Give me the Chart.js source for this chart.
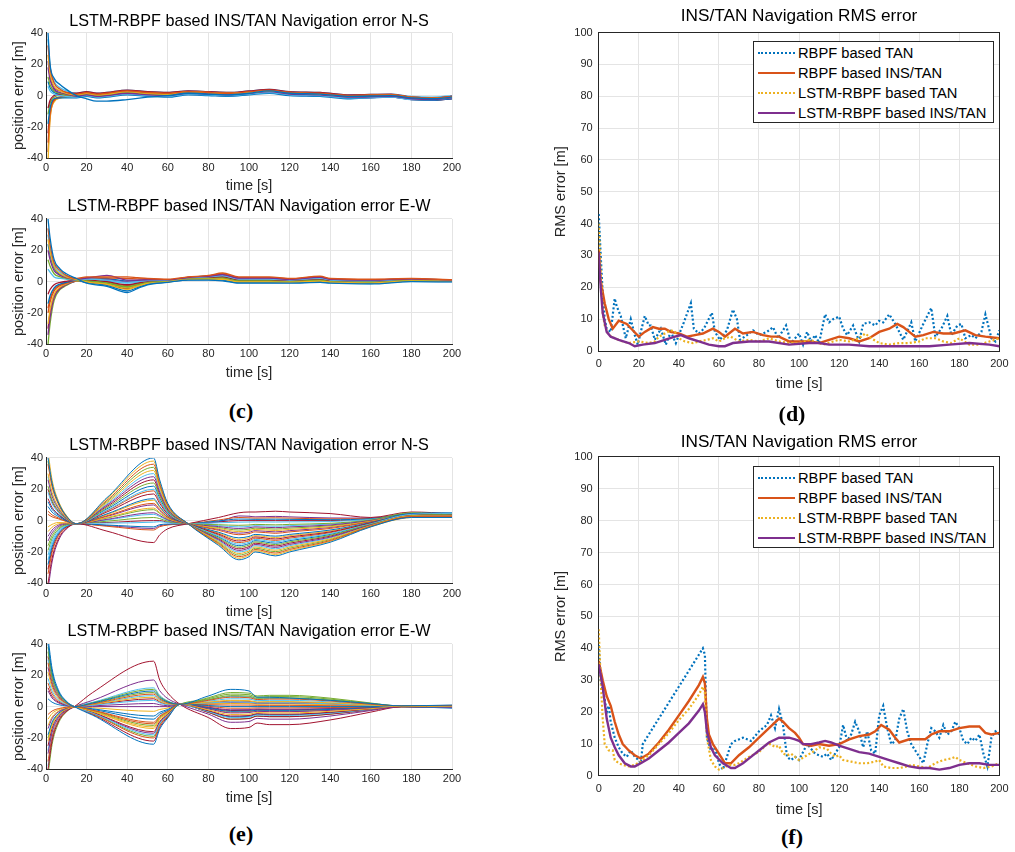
<!DOCTYPE html>
<html>
<head>
<meta charset="utf-8">
<script src="https://cdn.jsdelivr.net/npm/chart.js@4.4.1/dist/chart.umd.min.js"></script>
<style>
    body { margin: 0; background: #fff; width: 1015px; height: 852px; position: relative; overflow: hidden; font-family: "Liberation Sans", Arial, sans-serif; }
    canvas { position: absolute; }
    .fig { position: absolute; font-family: "Liberation Serif", serif; font-weight: bold; font-size: 22px; color: #000; transform: translate(-50%, -50%); }
    .legend { position: absolute; box-sizing: border-box; border: 1px solid #262626; background: #fff; font-size: 14.7px; color: #000; }
    .legend .row { position: absolute; left: 0; height: 20px; line-height: 20px; white-space: nowrap; }
    .legend .sample { position: absolute; left: 4px; top: 9px; width: 37px; height: 0; }
    .legend .txt { position: absolute; left: 44px; top: 0; }
</style>
</head>
<body>
<canvas id="cNS" width="466" height="195" style="left:0;top:0"></canvas>
<canvas id="cEW" width="466" height="195" style="left:0;top:190px"></canvas>
<canvas id="eNS" width="466" height="195" style="left:0;top:428px"></canvas>
<canvas id="eEW" width="466" height="195" style="left:0;top:615px"></canvas>
<canvas id="dRMS" width="475" height="395" style="left:540px;top:0"></canvas>
<canvas id="fRMS" width="475" height="395" style="left:540px;top:425px"></canvas>
<div id="legD" class="legend" style="left:753px;top:41px;width:241px;height:82px"></div>
<div id="legF" class="legend" style="left:753px;top:466px;width:241px;height:82px"></div>
<div class="fig" style="left:241px;top:411px">(c)</div>
<div class="fig" style="left:792px;top:414px">(d)</div>
<div class="fig" style="left:241px;top:834px">(e)</div>
<div class="fig" style="left:792px;top:837px">(f)</div>

<script>
"use strict";

// ---- (c) N-S: tidsknutar och kurvor ----
const cNsTime = [1, 2, 4, 7, 10, 15, 20, 25, 30, 40, 50, 60, 70, 80, 90, 100, 110, 120, 135, 150, 170, 180, 190, 200];
const cNsLines = [
    [40, 20, 11, 7, 4, 0, -2, -3.5, -3.5, -2.5, -1, 0, 1.5, 1, 0.5, 1.5, 3, 1.5, 1, -0.5, 0, -1.5, -2, -1],
    [32, 18, 8, 4, 2, 1, 2, 1, 1.5, 3, 2, 1.5, 2.5, 2, 1.5, 2.5, 3.5, 2, 1.5, 0, 0.5, -1, -1.5, -0.5],
    [26, 14, 6, 3, 1.5, 0.5, 1.5, 0.5, 1, 2.5, 1.5, 1, 2.5, 2, 1.5, 2, 3, 2, 1, 0, 0.5, -1, -1.5, -1],
    [18, 10, 4, 2, 1, -0.5, 0.5, -0.5, 0, 1.5, 0.5, 0, 1.5, 1, 0.5, 1.5, 2.5, 1, 0.5, -1, -0.5, -2, -2.5, -1.5],
    [12, 7, 3, 1.5, 0.5, 0, 1, 0, 0.5, 2, 1, 0.5, 2, 1.5, 1, 2, 3, 1.5, 1, -0.5, 0, -1.5, -2, -1],
    [6, 3, 1, 0, -0.5, -1, 0, -1, -0.5, 1, 0, -0.5, 1, 0.5, 0, 1, 2, 0.5, 0, -1.5, -1, -2.5, -2.5, -1.5],
    [-8, -3, 0, 1, 1.5, 1.5, 2.5, 1.5, 2, 3.5, 2.5, 2, 3, 2.5, 2, 3, 4, 2.5, 2, 0.5, 1, -1, -1.5, -0.5],
    [-18, -8, -2, -1.5, -1.5, -1.5, -0.5, -1.5, -1, 0.5, -0.5, -1, 0.5, 0, -0.5, 0.5, 1.5, 0, -0.5, -2, -1, -2.5, -3, -2],
    [-30, -12, -3, -1, 0, 0.5, 1.5, 0.5, 1, 2.5, 1.5, 1, 2.5, 2, 1.5, 2.5, 3, 1.5, 1, -0.5, 0, -1.5, -2, -1],
    [-42, -15, -4, -1.5, -1, -0.5, 0.5, -0.5, 0, 1.5, 0.5, 0, 1.5, 1, 0.5, 1.5, 2.5, 1, 0.5, -1, -0.5, -2, -2.5, -1.5],
    [22, 12, 5, 3, 2, 1, 2, 1, 1.5, 3, 2, 1, 2.5, 2, 1.5, 2.5, 3.5, 2, 1.5, 0, 0.5, -1, -1.5, -0.5],
    [-12, -5, -1, 0, 0, 0, 1, 0, 0.5, 2, 1, 0.5, 2, 1.5, 1, 2, 3, 1.5, 1, -0.5, 0, -1.5, -2, -1],
    [36, 19, 9, 5, 3, 1.5, 2.5, 1.5, 2, 3.5, 2.5, 2, 3, 2.5, 2, 3, 4, 2.5, 2, 0.5, 1, -0.5, -1, 0],
    [-24, -10, -2.5, -1, -0.5, -1, 0, -1, -0.5, 1, 0, -0.5, 1, 0.5, 0, 1, 2, 0.5, 0, -1.5, -1, -2.5, -3, -2],
    [9, 5, 2, 1, 0.5, 0.5, 1.5, 0.5, 1, 2.5, 1.5, 1, 2.5, 2, 1.5, 2.5, 3, 2, 1.5, 0, 0.5, -1, -1.5, -0.5],
    [-36, -14, -3.5, -1.5, -0.5, 0, 1, 0, 0.5, 2, 1, 0.5, 2, 1.5, 1, 2, 2.5, 1, 0.5, -1, 0, -1.5, -2, -1]
];

// ---- (c) E-W ----
const cEwTime = [1, 2, 4, 7, 10, 15, 20, 30, 40, 45, 50, 60, 70, 80, 87, 95, 110, 120, 135, 140, 160, 180, 200];
const cEwLines = [
    [40, 28, 14, 8, 5, 2, -1, -3, -7, -4.5, -2, -0.5, 1, 1, 0.5, -1, -1, -1, -0.5, -1, -1.5, 0, -0.2],
    [34, 24, 12, 7, 4, 2, 3, 3, 3, 2.5, 2, 1.5, 3, 4, 5.5, 3, 3, 2, 3.5, 2, 1.5, 2, 1.2],
    [27, 19, 9.5, 5, 3, 1.5, -0.2, -1.8, -5, -3, -1.2, -0.1, 1.4, 1.6, 1.5, -0.2, -0.2, -0.4, 0.3, -0.4, -0.9, 0.4, 0.1],
    [20, 14, 7, 4, 2.5, 1.5, 2.2, 4, 1, 1, 1.2, 1.1, 2.6, 3.4, 4.5, 2.2, 2.2, 1.4, 2.7, 1.4, 0.9, 1.6, 0.9],
    [14, 10, 5, 3, 2, 1.2, 0.4, -0.9, -3.5, -2, -0.6, 0.2, 1.7, 2, 2.2, 0.4, 0.4, 0, 0.9, 0, -0.4, 0.7, 0.3],
    [8, 6, 3, 2, 1.5, 1, 1.6, 0.9, -0.5, 0, 0.6, 0.8, 2.3, 3, 3.8, 1.6, 1.6, 1, 2.1, 1, 0.4, 1.3, 0.7],
    [-8, -5, -2, -0.5, 0.2, 1, 1, 0, -2, -1, 0, 0.5, 2, 2.5, 3, 1, 1, 0.5, 1.5, 0.5, 0, 1, 0.5],
    [-14, -9, -4, -1.5, -0.5, 0.8, -0.6, -2.4, -6, -3.8, -1.6, -0.3, 1.2, 1.3, 1, -0.6, -0.6, -0.7, -0.1, -0.7, -1.2, 0.2, 0],
    [-20, -13, -6, -2.5, -1, 0.8, 2.6, 2.4, 2, 1.8, 1.6, 1.3, 2.8, 3.7, 5, 2.6, 2.6, 1.7, 3.1, 1.7, 1.2, 1.8, 1],
    [-27, -18, -8, -3.5, -1.5, 0.5, 0.2, -1.2, -4, -2.4, -0.8, 0.1, 1.6, 1.9, 2, 0.2, 0.2, -0.1, 0.7, -0.1, -0.6, 0.6, 0.2],
    [-34, -23, -10, -4.5, -2, 0.5, 1.8, 1.2, 0, 0.4, 0.8, 0.9, 2.4, 3.1, 4, 1.8, 1.8, 1.1, 2.3, 1.1, 0.6, 1.4, 0.8],
    [-40, -27, -12, -5, -2.5, 0.3, 0.6, -0.6, -3, -1.7, -0.4, 0.3, 1.8, 2.2, 2.5, 0.6, 0.6, 0.2, 1.1, 0.2, -0.3, 0.8, 0.4],
    [30, 21, 10.5, 6, 3.5, 1.8, 1.5, 0.5, -1, -0.5, 0.2, 0.7, 2.2, 2.8, 3.5, 1.4, 1.4, 0.8, 1.9, 0.8, 0.2, 1.1, 0.6],
    [-30, -20, -9, -4, -1.8, 0.4, -0.2, -1.8, -4.5, -2.8, -1, 0, 1.5, 1.7, 1.8, 0, 0, -0.3, 0.5, -0.3, -0.8, 0.5, 0.1],
    [24, 17, 8.5, 4.5, 2.8, 1.4, 2.4, 2, 0.5, 0.8, 1, 1, 2.7, 3.6, 4.8, 2.4, 2.4, 1.5, 2.9, 1.5, 1, 1.7, 1],
    [-17, -11, -5, -2, -0.8, 0.9, 0.8, -0.5, -2.5, -1.4, -0.2, 0.4, 1.9, 2.3, 2.7, 0.8, 0.8, 0.3, 1.3, 0.3, -0.2, 0.9, 0.4]
];

// ---- (e) N-S ----
const eNsTime = [1, 3, 6, 10, 15, 30, 53, 56, 60, 70, 85, 95, 100, 103, 113, 120, 140, 160, 180, 200];
const eNsLines = [
    [40, 24, 12, 3, -2, 14.6, 40, 26, 11, -2, -15.8, -25, -23, -20, -22.5, -20, -13.8, -4, 2, 2],
    [36, 21.6, 10.8, 2.6, -2, 13, 36, 23.4, 9.8, -2, -14.6, -23, -21.2, -18.4, -20.7, -18.4, -12.7, -3.6, 2.5, 2.5],
    [30, 18, 9, 2, -2, 11.4, 32, 20.8, 8.6, -2, -13.4, -21, -19.3, -16.8, -18.9, -16.8, -11.6, -3.2, 3, 3],
    [26, 15.6, 7.8, 1.6, -2, 9.9, 28, 18.2, 7.4, -2, -12.2, -19, -17.5, -15.2, -17.1, -15.2, -10.5, -2.8, 2.5, 3.5],
    [22, 13.2, 6.6, 1.2, -2, 8.3, 24, 15.6, 6.2, -2, -11, -17, -15.6, -13.6, -15.3, -13.6, -9.4, -2.4, 3, 4],
    [18, 10.8, 5.4, 0.8, -2, 6.7, 20, 13, 5, -2, -9.8, -15, -13.8, -12, -13.5, -12, -8.3, -2, 4, 4.5],
    [14, 8.4, 4.2, 0.4, -2, 5.5, 17, 11, 4.1, -2, -8.6, -13, -12, -10.4, -11.7, -10.4, -7.2, -1.6, 3.5, 4],
    [9, 5.4, 2.7, -0.1, -2, 4.3, 14, 9.1, 3.2, -2, -7.4, -11, -10.1, -8.8, -9.9, -8.8, -6, -1.2, 4.5, 5],
    [4, 2.4, 1.2, -0.6, -2, 3.1, 11, 7.2, 2.3, -2, -6.2, -9, -8.3, -7.2, -8.1, -7.2, -5, -0.8, 3, 3],
    [-4, -2.4, -1.2, -1.4, -2, 2, 8, 5.2, 1.4, -2, -5, -7, -6.4, -5.6, -6.3, -5.6, -3.9, -0.4, 4, 4.5],
    [-10, -6, -3, -2, -2, 0.8, 5, 3.3, 0.5, -2, -3.8, -5, -4.6, -4, -4.5, -4, -2.8, 0, 3.5, 3],
    [-16, -9.6, -4.8, -2.6, -2, -0.4, 2, 1.3, -0.4, -2, -2.6, -3, -2.8, -2.4, -2.7, -2.4, -1.7, 0.4, 5, 4],
    [-22, -13.2, -6.6, -3.2, -2, -1.6, -1, -0.7, -1.3, -2, -1.4, -1, -0.9, -0.8, -0.9, -0.8, -0.6, 0.8, 3, 2.5],
    [-40, -24, -12, -5, -2, -6.7, -14, -9.1, -5.2, -2, 2, 5, 5.5, 5.5, 6, 5.5, 4.5, 2, 5.5, 4.5],
    [-28, -16.8, -8.4, -3.8, -2, -2.8, -4, -2.6, -2.2, -2, -0.2, 1, 0.9, 0.8, 0.9, 0.8, 0.6, 1.2, 4, 3.5],
    [-34, -20.4, -10.2, -4.4, -2, -3.6, -6, -3.9, -2.8, -2, 0.4, 2, 1.8, 1.6, 1.8, 1.6, 1.1, 1.4, 3.5, 4],
    [44, 26, 13, 3.4, -2, 14, 38, 24.7, 10.4, -2, -15.2, -24, -22, -19.2, -21.6, -19.2, -13.2, -3.8, 2, 2.5],
    [-44, -26.4, -13.2, -5.4, -2, -3.2, -5, -3.3, -2.5, -2, -0.8, 3, 2.8, 2.4, 2.7, 2.4, 1.7, 1.6, 4.5, 3.5],
    [38, 22.8, 11.4, 2.8, -2, 12.2, 34, 22.1, 9.2, -2, -14, -22, -20.2, -17.6, -19.8, -17.6, -12.1, -3.4, 2.5, 3],
    [28, 16.8, 8.4, 1.8, -2, 10.6, 30, 19.5, 8, -2, -12.8, -20, -18.4, -16, -18, -16, -11, -3, 3, 3.5],
    [20, 12, 6, 1, -2, 9.1, 26, 16.9, 6.8, -2, -11.6, -18, -16.6, -14.4, -16.2, -14.4, -9.9, -2.6, 3.5, 4],
    [12, 7.2, 3.6, 0.2, -2, 7.5, 22, 14.3, 5.6, -2, -10.4, -16, -14.7, -12.8, -14.4, -12.8, -8.8, -2.2, 4, 4.5],
    [6, 3.6, 1.8, -0.4, -2, 6.3, 19, 12.4, 4.7, -2, -9.2, -14, -12.9, -11.2, -12.6, -11.2, -7.7, -1.8, 3, 3.5],
    [-7, -4.2, -2.1, -1.7, -2, 3.9, 13, 8.5, 2.9, -2, -8, -12, -11, -9.6, -10.8, -9.6, -6.6, -1.4, 4, 4],
    [-13, -7.8, -3.9, -2.3, -2, 2.7, 10, 6.5, 2, -2, -5.6, -8, -7.4, -6.4, -7.2, -6.4, -4.4, -0.6, 3.5, 4.5],
    [-19, -11.4, -5.7, -2.9, -2, 1.6, 7, 4.6, 1.1, -2, -4.4, -6, -5.5, -4.8, -5.4, -4.8, -3.3, -0.2, 4.5, 3],
    [-25, -15, -7.5, -3.5, -2, 0.4, 4, 2.6, 0.2, -2, -3.2, -4, -3.7, -3.2, -3.6, -3.2, -2.2, 0.2, 3, 3.5],
    [-31, -18.6, -9.3, -4.1, -2, -1.2, 0, 0, -1, -2, -0.8, 0, 0, 0, 0, 0, 0, 1, 4, 4]
];

// ---- (e) E-W ----
const eEwTime = [1, 3, 6, 10, 14, 23, 53, 56, 60, 66, 80, 91, 100, 104, 110, 120, 140, 160, 175, 200];
const eEwLines = [
    [40, 22, 10, 3.2, 0, 2.3, 10, 6, 3, 1.5, 6.8, 11, 10, 6, 6, 5.5, 4, 2, 0.5, 1],
    [28, 15.4, 7, 2.2, 0, 1.8, 8, 4.8, 2.4, 1.5, 4, 6, 5.7, 4.5, 4.8, 4.8, 3.6, 1.5, 0.5, 0.8],
    [-22, -12.1, -5.5, -1.8, 0, 1.4, 6, 3.6, 1.8, 1.5, 2.9, 4, 3.8, 3, 3.2, 3.2, 2.4, 1, 0, 0.3],
    [-30, -16.5, -7.5, -2.4, 0, 4, 17, 10.2, 5.1, 1.5, -4.8, -10, -9.5, -7.5, -8, -8, -6, -2.5, 0, -0.3],
    [35, 19.3, 8.8, 2.8, 0, 2.5, 11, 6.6, 3.3, 1.5, 5.1, 8, 7.6, 6, 6.4, 6.4, 4.8, 2, 0.5, 0.5],
    [18, 9.9, 4.5, 1.4, 0, 0.9, 4, 2.4, 1.2, 1.5, 2.4, 3, 2.9, 2.3, 2.4, 2.4, 1.8, 0.8, 0.2, -0.2],
    [-40, -22, -10, -3.2, 0, 9, 29, 17, 8.7, 1.5, -7, -14, -13.3, -10.5, -11.5, -11.5, -8.5, -3.5, 0, 0.5],
    [44, 24.2, 11, 3.5, 0, -5.5, -24, -14.4, -7.2, 1.5, 0.7, 0, 0, 0, 0, 0, 0, 0, 0, -1],
    [-5, -2.8, -1.3, -0.4, 0, -2.3, -10, -6, -3, 1.5, 1.2, 1, 1, 0.8, 0.8, 0.8, 0.6, 0.3, 0, 0],
    [22, 12.1, 5.5, 1.8, 0, -3, -13, -7.8, -3.9, 1.5, -2.1, -5, -4.8, -3.8, -4, -4, -3, -1.3, 0, 0.4],
    [10, 5.5, 2.5, 0.8, 0, 0, 0, 0, 0, 1.5, -1.5, -4, -3.8, -3, -3.2, -3.2, -2.4, -1, 0, -0.5],
    [-44, -24.2, -11, -3.5, 0, -2.8, -12, -7.2, -3.6, 1.5, 4.5, 7, 6.7, 5.3, 5.6, 5.6, 4.2, 1.8, 0.3, 0.7],
    [30, 16.5, 7.5, 2.4, 0, -4.1, -18, -10.8, -5.4, 1.5, 3.5, 5, 4.8, 3.8, 4, 4, 3, 1.3, 0.3, 0.6],
    [-25, -13.8, -6.3, -2, 0, -3.7, -16, -9.6, -4.8, 1.5, -2.6, -6, -5.7, -4.5, -4.8, -4.8, -3.6, -1.5, 0, -0.6],
    [5, 2.8, 1.3, 0.4, 0, -1.4, -6, -3.6, -1.8, 1.5, -1, -3, -2.9, -2.3, -2.4, -2.4, -1.8, -0.8, 0, -0.3],
    [-35, -19.3, -8.8, -2.8, 0, -4.6, -20, -12, -6, 1.5, 0.2, -1, -1, -0.8, -0.8, -0.8, -0.6, -0.3, 0, -0.2],
    [-8, -4.4, -2, -0.6, 0, -0.7, -3, -1.8, -0.9, 1.5, 1.8, 2, 1.9, 1.5, 1.6, 1.6, 1.2, 0.5, 0, 0.2],
    [-14, -7.7, -3.5, -1.1, 0, 0.5, 2, 1.2, 0.6, 1.5, -0.4, -2, -1.9, -1.5, -1.6, -1.6, -1.2, -0.5, 0, 0.2],
    [38, 20.9, 9.5, 3, 0, 2.1, 9, 5.4, 2.7, 1.5, 5.7, 9, 8.6, 6.8, 7.2, 7.2, 5.4, 2.3, 0.3, 0.6],
    [-38, -20.9, -9.5, -3, 0, 1.6, 7, 4.2, 2.1, 1.5, -3.2, -7, -6.7, -5.3, -5.6, -5.6, -4.2, -1.8, 0, -0.4],
    [32, 17.6, 8, 2.6, 0, 1.2, 5, 3, 1.5, 1.5, -3.7, -8, -7.6, -6, -6.4, -6.4, -4.8, -2, 0, 0.3],
    [-18, -9.9, -4.5, -1.4, 0, -1.8, -8, -4.8, -2.4, 1.5, -2.9, -6.5, -6.2, -4.9, -5.2, -5.2, -3.9, -1.6, 0, -0.5],
    [15, 8.3, 3.8, 1.2, 0, -2.5, -11, -6.6, -3.3, 1.5, 2.6, 3.5, 3.3, 2.6, 2.8, 2.8, 2.1, 0.9, 0.2, 0.4],
    [-12, -6.6, -3, -1, 0, -3.2, -14, -8.4, -4.2, 1.5, -1.2, -3.5, -3.3, -2.6, -2.8, -2.8, -2.1, -0.9, 0, -0.2],
    [25, 13.8, 6.3, 2, 0, -3.9, -17, -10.2, -5.1, 1.5, 2.1, 2.5, 2.4, 1.9, 2, 2, 1.5, 0.6, 0.2, 0.5],
    [-20, -11, -5, -1.6, 0, -4.4, -19, -11.4, -5.7, 1.5, -3.7, -8, -7.6, -6, -6.4, -6.4, -4.8, -2, 0, -0.5],
    [-28, -15.4, -7, -2.2, 0, 2.8, 12, 7.2, 3.6, 1.5, 4.3, 6.5, 6.2, 4.9, 5.2, 5.2, 3.9, 1.6, 0.3, 0.6],
    [12, 6.6, 3, 1, 0, -5.1, -22, -13.2, -6.6, 1.5, -0.7, -2.5, -2.4, -1.9, -2, -2, -1.5, -0.6, 0, -0.3]
];

// ---- (d) RMS ----
const dTanTime = [0, 1, 2, 3, 4, 6, 8, 9, 11, 13.5, 16, 18, 19.5, 21, 23, 25, 26, 28, 31, 33.5, 36, 38.5, 40, 42.5, 46, 47.5, 50, 52.5, 56.5, 58, 60.5, 64, 67, 69, 70.5, 74, 77, 80, 84, 87, 89.5, 93.5, 96, 100, 102, 104, 106, 108, 110, 113, 115, 117, 120, 122, 124, 127, 130, 132, 135, 138, 140, 142, 145, 148, 152, 156, 158, 162, 166, 168, 171, 174, 176, 179, 181, 183, 186, 188, 191, 193, 196, 198, 200];
const dTan = [43, 30, 18, 10, 7, 6, 16.5, 14, 11, 4, 10, 5, 2, 6, 11, 8, 8, 3.5, 7, 2, 6, 2.5, 5, 9, 15, 7, 5.5, 7, 12, 6, 3.5, 6.5, 13, 10, 3.5, 5, 6.5, 5, 6, 7.5, 4, 8, 2.5, 5.5, 2, 6, 3, 5, 2.5, 11.5, 9, 10, 10.8, 7, 5, 8, 3, 8.5, 9, 8, 9.5, 9, 11.5, 8.5, 3.5, 9, 3, 8.5, 13.5, 4.5, 7, 11, 5, 8, 8.5, 4, 5, 4, 6, 11.5, 4, 3, 6.5];
const dInsTime = [0, 1, 3, 5, 7, 10, 14, 17, 20, 23, 27, 30, 33, 36, 40, 44, 48, 52, 57, 60, 63, 68, 72, 77, 82, 86, 90, 95, 100, 105, 110, 115, 120, 125, 130, 135, 140, 145, 149, 152, 155, 158, 162, 167, 172, 177, 183, 188, 193, 200];
const dIns = [32, 22, 15, 10, 7, 9.5, 8.5, 6.5, 4.5, 6, 7.5, 7, 7, 6, 5.5, 4.5, 5, 5.5, 7, 6, 4.5, 7, 5.5, 6, 5, 4.5, 4.5, 3, 3, 3, 2.5, 3.5, 4.5, 4, 3, 4, 6, 7, 8.5, 7.5, 6, 4.5, 5, 6, 5.5, 5.5, 6.5, 5, 4.5, 4];
const dLstmTanTime = [0, 1, 2, 3, 5, 8, 12, 15, 20, 25, 28, 30, 33, 36, 38, 40, 43, 47, 50, 54, 57, 60, 63, 66, 70, 75, 80, 85, 90, 95, 100, 105, 108, 112, 117, 120, 125, 130, 133, 136, 140, 145, 150, 155, 160, 163, 168, 172, 176, 180, 185, 190, 195, 200];
const dLstmTan = [40, 25, 12, 8, 5, 4, 3, 2.5, 3, 2.5, 3, 4.5, 5.5, 6.5, 6, 4, 3, 2.5, 3, 3.5, 4, 3, 4, 4.5, 3, 3.5, 3, 4, 3, 2.5, 2.5, 3.5, 3, 2, 3, 3.5, 3, 4, 5.5, 4, 2.5, 2, 2.5, 2.5, 3, 4, 4, 3, 2.5, 4, 2, 2, 3, 4];
const dLstmInsTime = [0, 1, 2, 4, 6, 10, 15, 18, 22, 28, 33, 38, 41, 45, 50, 55, 60, 63, 67, 75, 85, 95, 105, 110, 115, 125, 135, 145, 155, 165, 175, 185, 195, 200];
const dLstmIns = [31, 20, 12, 6, 4.5, 3.5, 2.5, 1.5, 2, 2.5, 3.5, 4.5, 5, 4, 3, 2, 1.5, 1.5, 2.5, 3, 3, 2, 2.5, 2.5, 2, 2, 1.5, 1.5, 1.5, 1.5, 2, 2.5, 2, 1.5];

// ---- (f) RMS ----
const fTanTime = [0, 1, 2, 3, 4, 5, 6, 8, 10, 12, 14, 16, 18, 20, 21, 22, 24, 52, 53, 54, 56, 58, 60, 62, 64, 66, 68, 72, 76, 80, 84, 86, 88, 90, 92, 94, 96, 98, 100, 104, 108, 112, 114, 116, 120, 122, 124, 126, 128, 130, 132, 134, 136, 138, 140, 142, 144, 146, 148, 150, 152, 154, 156, 158, 160, 162, 164, 166, 168, 170, 172, 174, 176, 178, 180, 182, 184, 186, 188, 190, 192, 194, 196, 198, 200];
const fTan = [41, 30, 27, 24, 20, 22, 17, 12, 9, 7, 6, 8, 6, 5, 4, 10, 12, 40, 38, 12, 8, 9, 4, 2, 6, 10, 11, 12, 11, 14, 16, 19, 15, 21, 16, 6, 5, 6, 5, 10, 7, 6, 7, 5, 9, 16, 11, 13, 17, 14, 9, 14, 8, 7, 19, 22, 15, 10, 11, 18, 21, 14, 10, 8, 6, 4, 10, 15, 14, 12, 16, 13, 14, 17, 15, 11, 10, 12, 11, 13, 7, 3, 12, 14, 13];
const fInsTime = [0, 2, 4, 6, 8, 10, 12, 15, 18, 21, 25, 30, 35, 40, 45, 50, 52, 53, 54, 55, 57, 60, 63, 66, 70, 75, 80, 85, 90, 92, 95, 98, 100, 102, 106, 110, 115, 120, 125, 130, 135, 138, 141, 145, 148, 150, 155, 160, 163, 166, 170, 175, 180, 185, 190, 193, 196, 200];
const fIns = [36, 30, 25, 22, 17, 13, 10, 8, 6.5, 5.5, 7, 10.5, 14.5, 19, 23.5, 28.5, 31, 29, 18, 13, 10, 7, 4, 4, 6.5, 9, 12, 15, 18, 17, 15, 13.5, 12, 10, 9.5, 10, 9.5, 10, 11.5, 12.5, 13, 14, 16, 14.5, 12, 10.5, 11.5, 11.5, 11.5, 13, 14, 14, 15, 15.5, 15.5, 13.5, 13, 13.5];
const fLstmTanTime = [0, 1, 2, 3, 5, 7, 8, 10, 12, 15, 18, 21, 25, 30, 35, 40, 45, 50, 52, 53, 54, 56, 58, 60, 62, 65, 68, 70, 75, 80, 84, 86, 88, 90, 92, 94, 96, 98, 100, 104, 108, 110, 114, 116, 118, 120, 122, 126, 130, 134, 138, 140, 142, 146, 150, 154, 156, 160, 164, 168, 172, 176, 178, 180, 184, 188, 192, 196, 200];
const fLstmTan = [46, 30, 18, 10, 8, 8, 5, 4, 3.5, 3, 3.5, 4.5, 6.5, 10, 13.5, 17.5, 21, 25.5, 28, 26, 12, 5, 3, 2, 2.5, 3.5, 3.5, 4, 6, 7.5, 10, 10, 9, 9.5, 7, 6.5, 7, 6, 5, 6.5, 8, 9, 8.5, 7, 6, 6.5, 5, 4.5, 4, 4, 4.5, 5, 3, 2.5, 2.5, 3, 3.5, 3, 2.5, 4, 5, 5.5, 6, 5, 4, 3, 2.5, 3, 4];
const fLstmInsTime = [0, 2, 4, 6, 8, 10, 13, 16, 18, 21, 25, 30, 35, 40, 45, 50, 52, 53, 54, 56, 58, 62, 66, 68, 72, 76, 80, 85, 90, 95, 98, 100, 102, 106, 110, 113, 116, 120, 125, 130, 135, 140, 145, 150, 155, 160, 165, 170, 175, 180, 185, 190, 195, 200];
const fLstmIns = [35, 28, 18, 12, 9, 6.5, 4, 3, 3, 4, 5.5, 8, 10.5, 13.5, 16.5, 20.5, 22.5, 20, 14, 9, 6.5, 4, 2.5, 2.5, 4, 6, 8, 10.5, 12, 12, 11.5, 11, 10, 10, 10.5, 11, 10.5, 9.5, 8.5, 7.5, 7, 6, 5, 4, 3, 2.5, 2.5, 2, 2.5, 3.5, 4, 4, 3.5, 3.5];

const rmsNames = ['RBPF based TAN', 'RBPF based INS/TAN', 'LSTM-RBPF based TAN', 'LSTM-RBPF based INS/TAN'];

// MATLAB standardfärger
const matlabColors = ['#0072BD', '#D95319', '#EDB120', '#7E2F8E', '#77AC30', '#4DBEEE', '#A2142F'];
const rmsStyles = [
    { color: '#0072BD', dash: [2, 2.2], width: 2.2 },
    { color: '#D95319', dash: [], width: 2.4 },
    { color: '#EDB120', dash: [2, 2.2], width: 2.2 },
    { color: '#7E2F8E', dash: [], width: 2.4 }
];

const fontFamily = "'Liberation Sans', Arial, sans-serif";
const tickFont = { family: fontFamily, size: 11 };
const labelFont = { family: fontFamily, size: 14.5 };
const leftTitleFont = { family: fontFamily, size: 16.2, weight: 'normal' };
const rmsTitleFont = { family: fontFamily, size: 17.2, weight: 'normal' };
const axisColor = '#262626';
const gridColor = '#e4e4e4';

/**
 * Gör om tids- och värdelistor till punkter
 */
function toPoints(times, values) {
    return values.map((v, i) => ({ x: times[i], y: v }));
}

/**
 * Skapar ett felkurvediagram (c/e)
 */
function createErrorChart(id, titleText, times, lines, g) {
    new Chart(document.getElementById(id), {
        type: 'line',
        data: {
            datasets: lines.map((vals, i) => ({
                data: toPoints(times, vals),
                borderColor: matlabColors[i % matlabColors.length],
                borderWidth: g.lw,
                pointRadius: 0,
                cubicInterpolationMode: 'monotone'
            }))
        },
        options: {
            responsive: false,
            animation: false,
            events: [],
            layout: { padding: { left: 0, right: 14, top: 0, bottom: 0 } },
            plugins: {
                legend: { display: false },
                tooltip: { enabled: false },
                title: {
                    display: true, text: titleText, fullSize: false, color: '#000',
                    font: leftTitleFont, padding: { top: g.tTop, bottom: g.tBot }
                }
            },
            scales: {
                x: {
                    type: 'linear', min: 0, max: 200,
                    ticks: { stepSize: 20, padding: g.xPad, color: axisColor, font: tickFont, maxRotation: 0 },
                    grid: { color: gridColor, drawTicks: false },
                    border: { color: axisColor },
                    title: { display: true, text: 'time [s]', color: axisColor, font: labelFont, padding: { top: 0, bottom: g.xlBot } },
                    afterFit: s => { s.height = g.xH; }
                },
                y: {
                    min: -40, max: 40,
                    ticks: { stepSize: 20, padding: 3, color: axisColor, font: tickFont },
                    grid: { color: gridColor, drawTicks: false },
                    border: { color: axisColor },
                    title: { display: true, text: 'position error [m]', color: axisColor, font: labelFont, padding: { top: 10.3, bottom: 0 } },
                    afterFit: s => { s.width = 46; }
                }
            }
        }
    });
}

/**
 * Skapar RMS-diagram (d/f) med fyra serier
 */
function createRmsChart(id, series, g) {
    new Chart(document.getElementById(id), {
        type: 'line',
        data: {
            datasets: series.map((s, i) => ({
                label: rmsNames[i],
                data: toPoints(s[0], s[1]),
                borderColor: rmsStyles[i].color,
                borderDash: rmsStyles[i].dash,
                borderWidth: rmsStyles[i].width,
                pointRadius: 0,
                tension: 0,
                order: series.length - i
            }))
        },
        options: {
            responsive: false,
            animation: false,
            events: [],
            layout: { padding: { left: 0, right: 11, top: 0, bottom: 0 } },
            plugins: {
                legend: { display: false },
                tooltip: { enabled: false },
                title: {
                    display: true, text: 'INS/TAN Navigation RMS error', fullSize: false, color: '#000',
                    font: rmsTitleFont, padding: { top: g.tTop, bottom: g.tBot }
                }
            },
            scales: {
                x: {
                    type: 'linear', min: 0, max: 200,
                    ticks: { stepSize: 20, padding: 6.4, color: axisColor, font: tickFont, maxRotation: 0 },
                    grid: { color: gridColor, drawTicks: false },
                    border: { color: axisColor },
                    title: { display: true, text: 'time [s]', color: axisColor, font: labelFont, padding: { top: 0, bottom: g.xlBot } },
                    afterFit: s => { s.height = 44; }
                },
                y: {
                    min: 0, max: 100,
                    ticks: { stepSize: 10, padding: 6, color: axisColor, font: tickFont },
                    grid: { color: gridColor, drawTicks: false },
                    border: { color: axisColor },
                    title: { display: true, text: 'RMS error [m]', color: axisColor, font: labelFont, padding: { top: 12.3, bottom: 0 } },
                    afterFit: s => { s.width = 58.7; }
                },
                x2: {
                    type: 'linear', position: 'top', min: 0, max: 200,
                    ticks: { display: false },
                    grid: { drawOnChartArea: false, drawTicks: false },
                    border: { color: axisColor },
                    afterFit: s => { s.height = 0; }
                },
                y2: {
                    type: 'linear', position: 'right', min: 0, max: 100,
                    ticks: { display: false },
                    grid: { drawOnChartArea: false, drawTicks: false },
                    border: { color: axisColor },
                    afterFit: s => { s.width = 0; }
                }
            }
        }
    });
}

/**
 * Bygger HTML-legend med linjeprov
 */
function buildLegend(id) {
    const box = document.getElementById(id);
    rmsNames.forEach((name, i) => {
        const row = document.createElement('div');
        row.className = 'row';
        row.style.top = (1.3 + 20 * i) + 'px';
        row.style.width = '100%';
        const sample = document.createElement('span');
        sample.className = 'sample';
        const st = rmsStyles[i];
        sample.style.borderTop = (st.dash.length ? '2px dotted ' : '2.5px solid ') + st.color;
        const txt = document.createElement('span');
        txt.className = 'txt';
        txt.textContent = name;
        row.appendChild(sample);
        row.appendChild(txt);
        box.appendChild(row);
    });
}

createErrorChart('cNS', 'LSTM-RBPF based INS/TAN Navigation error N-S', cNsTime, cNsLines,
    { tTop: 12.1, tBot: 1.4, xPad: 3.1, xH: 36.7, xlBot: 0.3, lw: 1.3 });
createErrorChart('cEW', 'LSTM-RBPF based INS/TAN Navigation error E-W', cEwTime, cEwLines,
    { tTop: 7.1, tBot: 2.4, xPad: 3.1, xH: 40.7, xlBot: 3.3, lw: 1.3 });
createErrorChart('eNS', 'LSTM-RBPF based INS/TAN Navigation error N-S', eNsTime, eNsLines,
    { tTop: 8.1, tBot: 2.4, xPad: 4.1, xH: 39.7, xlBot: 2.3, lw: 1 });
createErrorChart('eEW', 'LSTM-RBPF based INS/TAN Navigation error E-W', eEwTime, eEwLines,
    { tTop: 7.1, tBot: 2.4, xPad: 3.1, xH: 40.7, xlBot: 3.3, lw: 1 });

createRmsChart('dRMS', [[dTanTime, dTan], [dInsTime, dIns], [dLstmTanTime, dLstmTan], [dLstmInsTime, dLstmIns]],
    { tTop: 6.1, tBot: 5.8, xlBot: 2.3 });
createRmsChart('fRMS', [[fTanTime, fTan], [fInsTime, fIns], [fLstmTanTime, fLstmTan], [fLstmInsTime, fLstmIns]],
    { tTop: 7.1, tBot: 4.1, xlBot: 1.3 });

buildLegend('legD');
buildLegend('legF');
</script>
</body>
</html>
